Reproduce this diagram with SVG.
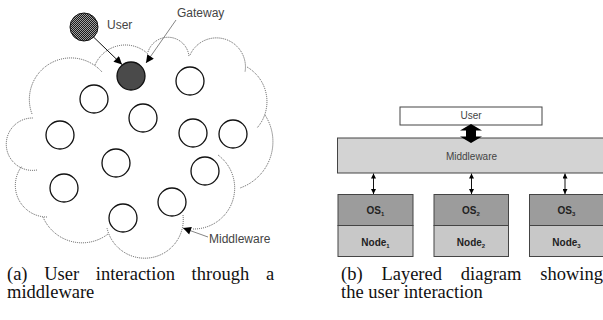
<svg xmlns="http://www.w3.org/2000/svg" width="603" height="320" viewBox="0 0 603 320">
<defs>
<style>
.cloud{fill:none;stroke:#555;stroke-width:1;stroke-dasharray:1 1}
.nd{fill:#fff;stroke:#111;stroke-width:1.3}
.lbl{font-family:"Liberation Sans",Arial,sans-serif;font-size:12px;fill:#444}
.lead{stroke:#777;stroke-width:0.9;fill:none}
.arr{stroke:#111;stroke-width:1;fill:none}
.box{stroke:#444;stroke-width:1}
.btxt{font-family:"Liberation Sans",Arial,sans-serif;font-size:10px;fill:#444;text-anchor:middle}
.bold{font-family:"Liberation Sans",Arial,sans-serif;font-size:10px;font-weight:bold;fill:#222;text-anchor:middle}
.cap{font-family:"Liberation Serif","Times New Roman",serif;font-size:18.5px;fill:#111}
</style>
<pattern id="chk" width="2" height="2" patternUnits="userSpaceOnUse">
<rect width="2" height="2" fill="#1a1a1a"/>
<rect x="0" y="0" width="1" height="1" fill="#a0a0a0"/>
<rect x="1" y="1" width="1" height="1" fill="#a0a0a0"/>
</pattern>
<marker id="ah" viewBox="0 0 10 10" refX="10" refY="5" markerWidth="10" markerHeight="8" markerUnits="userSpaceOnUse" orient="auto">
<path d="M0,0 L10,5 L0,10 z" fill="#000"/>
</marker>
<marker id="sh" viewBox="0 0 10 10" refX="10" refY="5" markerWidth="5" markerHeight="5" markerUnits="userSpaceOnUse" orient="auto-start-reverse">
<path d="M0,0 L10,5 L0,10 z" fill="#000"/>
</marker>
</defs>

<!-- (a) cloud -->
<g id="cloud">
<path class="cloud" d="M32,114 A41.5,41.5 0 0 1 102,72"/>
<path class="cloud" d="M95,65 A33,33 0 0 1 148,54"/>
<path class="cloud" d="M148,52 A21,21 0 0 1 189,57"/>
<path class="cloud" d="M190,55 A29,29 0 0 1 245,72"/>
<path class="cloud" d="M247,67 A40,40 0 0 1 257,128"/>
<path class="cloud" d="M265,115 A49,49 0 0 1 240,188"/>
<path class="cloud" d="M218,155 A41,41 0 0 1 193,229"/>
<path class="cloud" d="M183,215 A38.6,38.6 0 0 1 107,228"/>
<path class="cloud" d="M108,234 A42.5,42.5 0 0 1 43,217"/>
<path class="cloud" d="M47,217 A31.6,31.6 0 0 1 22,166"/>
<path class="cloud" d="M37,170 A26.2,26.2 0 1 1 33,118"/>
</g>

<g id="user-a"><circle cx="84" cy="27" r="14" fill="url(#chk)" stroke="#111" stroke-width="1"/><text class="lbl" x="107" y="29">User</text></g>
<g id="gateway"><circle cx="131" cy="76" r="14" fill="#4a4a4a" stroke="#111" stroke-width="1.3"/><text class="lbl" x="177" y="17">Gateway</text></g>
<g id="n1"><circle class="nd" cx="190" cy="81" r="14"/></g>
<g id="n2"><circle class="nd" cx="94" cy="99" r="14"/></g>
<g id="n3"><circle class="nd" cx="143" cy="118" r="14"/></g>
<g id="n4"><circle class="nd" cx="60" cy="135" r="14"/></g>
<g id="n5"><circle class="nd" cx="193" cy="133" r="14"/></g>
<g id="n6"><circle class="nd" cx="233" cy="134" r="14"/></g>
<g id="n7"><circle class="nd" cx="116" cy="163" r="14"/></g>
<g id="n8"><circle class="nd" cx="205" cy="171" r="14"/></g>
<g id="n9"><circle class="nd" cx="64" cy="188" r="14"/></g>
<g id="n10"><circle class="nd" cx="172" cy="202" r="14"/></g>
<g id="n11"><circle class="nd" cx="123" cy="218" r="14"/></g>
<g id="middleware-label"><text class="lbl" x="209" y="243">Middleware</text></g>

<!-- (b) layered -->
<g id="user-b"><rect class="box" x="400" y="107" width="142" height="18" fill="#fff"/><text class="btxt" x="471" y="119">User</text></g>
<g id="middleware"><rect class="box" x="337.5" y="138" width="270" height="35" fill="#d3d3d3"/><text class="btxt" x="471.5" y="160">Middleware</text></g>
<g id="os1"><rect class="box" x="338" y="194.5" width="75" height="31" fill="#9c9c9c"/><text class="bold" x="375.5" y="213.5">OS<tspan font-size="6" dy="2">1</tspan></text></g>
<g id="node1"><rect class="box" x="338" y="225.5" width="75" height="31" fill="#c8c8c8"/><text class="bold" x="375.5" y="246">Node<tspan font-size="6" dy="2">1</tspan></text></g>
<g id="os2"><rect class="box" x="434" y="194.5" width="74.5" height="31" fill="#9c9c9c"/><text class="bold" x="471" y="213.5">OS<tspan font-size="6" dy="2">2</tspan></text></g>
<g id="node2"><rect class="box" x="434" y="225.5" width="74.5" height="31" fill="#c8c8c8"/><text class="bold" x="471" y="246">Node<tspan font-size="6" dy="2">2</tspan></text></g>
<g id="os3"><rect class="box" x="529.5" y="194.5" width="76" height="31" fill="#9c9c9c"/><text class="bold" x="566.5" y="213.5">OS<tspan font-size="6" dy="2">3</tspan></text></g>
<g id="node3"><rect class="box" x="529.5" y="225.5" width="76" height="31" fill="#c8c8c8"/><text class="bold" x="566.5" y="246">Node<tspan font-size="6" dy="2">3</tspan></text></g>

<g id="connectors">
<line class="arr" x1="93.5" y1="37" x2="122" y2="64.5" marker-end="url(#ah)"/>
<line class="lead" x1="176" y1="20" x2="146" y2="63" marker-end="url(#ah)"/>
<line class="lead" x1="208" y1="237" x2="183" y2="228" marker-end="url(#ah)"/>
<polygon points="471,124 482,130.5 476,130.5 476,136.5 482,136.5 471,143 460,136.5 466,136.5 466,130.5 460,130.5" fill="#000"/>
<line class="arr" x1="373.5" y1="173.5" x2="373.5" y2="194" marker-start="url(#sh)" marker-end="url(#sh)"/>
<line class="arr" x1="471.5" y1="173.5" x2="471.5" y2="194" marker-start="url(#sh)" marker-end="url(#sh)"/>
<line class="arr" x1="565" y1="173.5" x2="565" y2="194" marker-start="url(#sh)" marker-end="url(#sh)"/>
</g>

<g id="captions">
<text class="cap" y="280"><tspan x="7">(a)</tspan><tspan x="44.2">User</tspan><tspan x="95.8">interaction</tspan><tspan x="191.6">through</tspan><tspan x="265.9">a</tspan></text>
<text class="cap" x="7" y="298">middleware</text>
<text class="cap" y="280"><tspan x="341">(b)</tspan><tspan x="381.4">Layered</tspan><tspan x="460.8">diagram</tspan><tspan x="540.2">showing</tspan></text>
<text class="cap" x="341" y="298">the user interaction</text>
</g>
</svg>
